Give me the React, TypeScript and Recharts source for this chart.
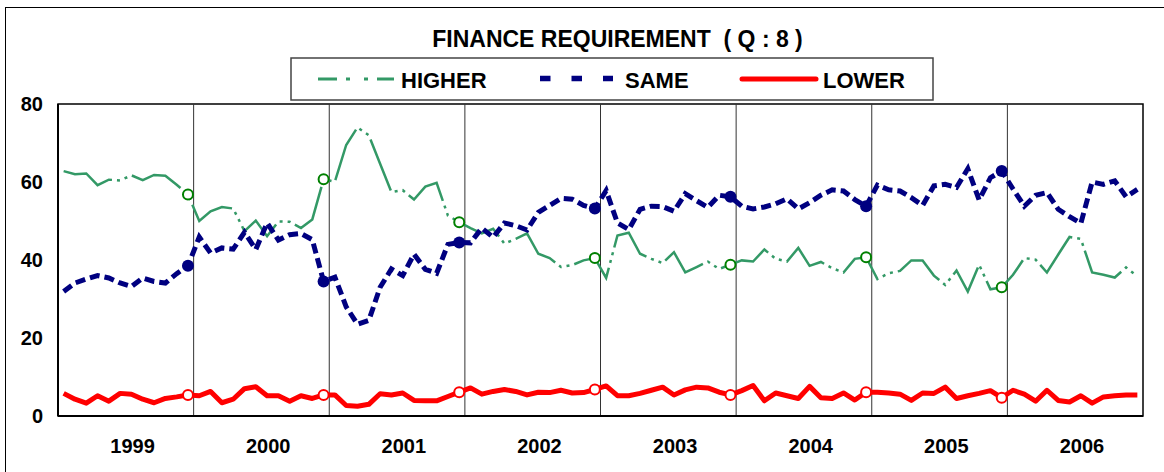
import { LineChart, Line, XAxis, YAxis, ReferenceLine, ReferenceArea } from 'recharts'

// Monthly survey shares (%), Jan 1999 – Dec 2006
const YEARS = ['1999', '2000', '2001', '2002', '2003', '2004', '2005', '2006']

const HIGHER = [
  62.8, 62.0, 62.2, 59.2, 60.6, 60.4, 61.7, 60.5, 61.8, 61.6, 59.3, 56.8,
  50.0, 52.5, 53.6, 53.2, 47.4, 50.1, 46.1, 49.9, 49.8, 48.2, 50.4, 60.7,
  60.1, 69.5, 74.0, 72.0, 64.7, 57.4, 57.9, 55.5, 58.8, 59.8, 51.4, 49.7,
  48.2, 46.8, 48.0, 44.2, 45.4, 46.8, 41.6, 40.5, 38.2, 38.7, 39.9, 40.5,
  35.4, 46.3, 47.0, 41.6, 40.3, 39.2, 42.0, 36.8, 38.2, 39.6, 37.7, 38.8,
  39.9, 39.6, 42.7, 40.3, 39.6, 43.1, 38.5, 39.5, 37.9, 36.8, 40.3, 40.7,
  35.1, 36.6, 37.2, 39.9, 39.9, 36.0, 33.6, 37.3, 31.9, 38.8, 32.5, 33.0,
  36.2, 40.5, 40.1, 36.8, 41.4, 45.9, 45.4, 36.8, 36.2, 35.5, 38.1, 35.8,
]

const SAME = [
  31.9, 34.1, 35.1, 36.0, 35.4, 34.1, 33.2, 35.4, 34.5, 34.1, 36.5, 38.5,
  45.9, 41.8, 43.1, 42.8, 47.1, 42.7, 49.5, 45.1, 46.5, 46.8, 45.2, 34.5,
  35.6, 28.0, 23.5, 24.5, 33.0, 37.7, 36.0, 41.5, 37.6, 36.6, 44.0, 44.5,
  44.4, 48.2, 45.8, 49.5, 48.8, 47.7, 52.2, 54.0, 55.8, 55.6, 54.0, 53.2,
  57.8, 49.5, 47.8, 53.0, 53.8, 53.7, 52.5, 57.0, 55.2, 53.5, 56.6, 56.2,
  53.8, 53.1, 53.6, 54.4, 55.7, 53.1, 54.7, 56.6, 58.0, 57.7, 55.5, 53.8,
  59.2, 58.0, 57.7, 56.0, 54.0, 59.0, 59.4, 58.6, 63.4, 55.4, 61.1, 62.8,
  58.2, 53.8, 56.6, 57.3, 53.0, 51.1, 49.4, 60.0, 59.4, 60.3, 56.2, 58.1,
]

const LOWER = [
  5.8, 4.3, 3.3, 5.2, 3.8, 5.8, 5.6, 4.3, 3.4, 4.5, 4.9, 5.4,
  5.2, 6.3, 3.4, 4.3, 7.0, 7.5, 5.2, 5.2, 3.8, 5.2, 4.5, 5.4,
  5.4, 2.7, 2.5, 3.0, 5.7, 5.4, 5.9, 4.0, 3.9, 3.9, 5.0, 6.1,
  7.2, 5.6, 6.3, 6.8, 6.3, 5.4, 6.1, 6.0, 6.6, 5.9, 6.0, 6.8,
  7.7, 5.2, 5.2, 5.8, 6.6, 7.4, 5.4, 6.7, 7.4, 7.2, 6.1, 5.4,
  6.5, 7.8, 3.9, 5.9, 5.2, 4.5, 7.6, 4.7, 4.5, 5.9, 4.1, 6.1,
  6.1, 5.9, 5.6, 4.0, 5.9, 5.8, 7.4, 4.5, 5.2, 5.8, 6.5, 4.7,
  6.6, 5.6, 3.8, 6.6, 4.0, 3.6, 5.2, 3.3, 4.9, 5.2, 5.4, 5.4,
]

const Y_TICKS = [0, 20, 40, 60, 80]

const FONT = '"Liberation Sans", Arial, sans-serif'

// one row per month, x at the middle of the month slot
const data = HIGHER.map((h, i) => ({ x: i + 0.5, higher: h, same: SAME[i], lower: LOWER[i] }))
const yearTicks = YEARS.map((_, k) => k * 12 + 6.6)
const yearEdges = YEARS.slice(1).map((_, k) => (k + 1) * 12)

// year-end markers, only where a following year exists
const isYearEnd = (index: number) => index % 12 === 11 && index < HIGHER.length - 1

const hollowDot = (color: string, r: number) => (props: any) => {
  const { cx, cy, index } = props
  if (!isYearEnd(index)) return <g key={`e${index}`} />
  return <circle key={`d${index}`} cx={cx} cy={cy} r={r} fill="#fff" stroke={color} strokeWidth={2} />
}

const solidDot = (color: string, r: number) => (props: any) => {
  const { cx, cy, index } = props
  if (!isYearEnd(index)) return <g key={`e${index}`} />
  return <circle key={`d${index}`} cx={cx} cy={cy} r={r} fill={color} stroke="none" />
}

const YTick = ({ x, y, payload }: any) => (
  <text x={x} y={y} dy="0.36em" textAnchor="end" fontFamily={FONT} fontWeight={700} fontSize={20} fill="#000">
    {payload.value}
  </text>
)

const XTick = ({ x, y, payload }: any) => (
  <text x={x} y={y} dy={37} textAnchor="middle" fontFamily={FONT} fontWeight={700} fontSize={20} fill="#000">
    {YEARS[Math.round((payload.value - 6.6) / 12)]}
  </text>
)

function Header() {
  return (
    <svg width={1164} height={472} style={{ position: 'absolute', left: 0, top: 0, pointerEvents: 'none' }}>
      <rect x={5.5} y={7.5} width={1300} height={700} fill="none" stroke="#000" strokeWidth={1} />
      <text x={617.5} y={47} textAnchor="middle" fontFamily={FONT} fontWeight={700} fontSize={23}
        style={{ whiteSpace: 'pre' }}>
        FINANCE REQUIREMENT  ( Q : 8 )
      </text>
      <rect x={291} y={58} width={642} height={42} fill="#fff" stroke="#444" strokeWidth={1.5} />
      <line x1={318} x2={394} y1={79} y2={79} stroke="#339966" strokeWidth={3} strokeDasharray="19 9 4 14 4 9 17" />
      <text x={401} y={88} fontFamily={FONT} fontWeight={700} fontSize={22}>HIGHER</text>
      <line x1={540} x2={613} y1={78.5} y2={78.5} stroke="#000080" strokeWidth={5.5} strokeDasharray="10.5 21" />
      <text x={625} y={88} fontFamily={FONT} fontWeight={700} fontSize={22}>SAME</text>
      <line x1={742} x2={816} y1={79} y2={79} stroke="#ff0000" strokeWidth={5} strokeLinecap="round" />
      <text x={823} y={88} fontFamily={FONT} fontWeight={700} fontSize={22}>LOWER</text>
    </svg>
  )
}

export default function App() {
  return (
    <div style={{ position: 'absolute', left: 0, top: 0, width: 1164, height: 472, overflow: 'hidden', background: '#fff' }}>
      <LineChart width={1164} height={472} data={data} margin={{ top: 104, right: 21, bottom: 0, left: 0 }}>
        <XAxis
          type="number" dataKey="x" domain={[0, 96]} ticks={yearTicks}
          height={56} tickSize={0} tickMargin={0} tick={<XTick />}
          axisLine={{ stroke: '#000', strokeWidth: 2 }} tickLine={false}
        />
        <YAxis
          type="number" domain={[0, 80]} ticks={Y_TICKS} width={58}
          tickSize={0} tickMargin={15} tick={<YTick />}
          axisLine={{ stroke: '#000', strokeWidth: 2 }} tickLine={false}
        />
        <ReferenceArea x1={0} x2={96} y1={0} y2={80} fill="none" stroke="#000" strokeWidth={1.5} ifOverflow="visible" />
        {yearEdges.map(v => (
          <ReferenceLine key={v} x={v} stroke="#333" strokeWidth={1} />
        ))}
        <Line type="linear" dataKey="higher" stroke="#339966" strokeWidth={2.5} strokeDasharray="55 5 3 5 3 5"
          dot={hollowDot('#008000', 5)} activeDot={false} isAnimationActive={false} />
        <Line type="linear" dataKey="same" stroke="#000080" strokeWidth={5} strokeDasharray="10 5"
          dot={solidDot('#000080', 6)} activeDot={false} isAnimationActive={false} />
        <Line type="linear" dataKey="lower" stroke="#ff0000" strokeWidth={5} strokeLinejoin="round"
          dot={hollowDot('#ff0000', 5)} activeDot={false} isAnimationActive={false} />
      </LineChart>
      <Header />
    </div>
  )
}
